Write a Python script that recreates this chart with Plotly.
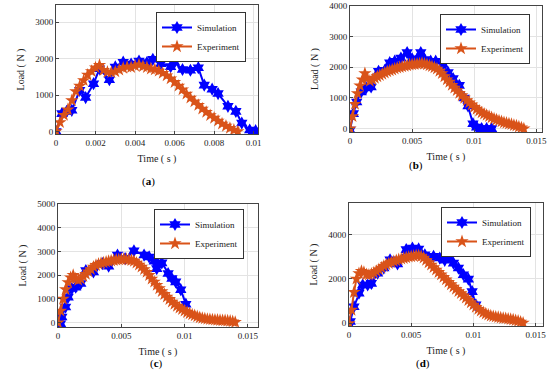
import plotly.graph_objects as go

# ---------------- data ----------------
# (a)
a_sim_t = [0, 0.0003, 0.00054, 0.0008, 0.0012, 0.0015, 0.0019, 0.0022, 0.0027, 0.003, 0.0034, 0.0038,
           0.0042, 0.0046, 0.0049, 0.0053, 0.0058, 0.006, 0.0064, 0.0068, 0.0072, 0.0075, 0.0079, 0.0082,
           0.0087, 0.0091, 0.0094, 0.0098, 0.0101]
a_sim_f = [0, 490, 550, 580, 1130, 930, 1310, 1720, 1420, 1770, 1900, 1850,
           1930, 1890, 1980, 1860, 1780, 1900, 1700, 1680, 1750, 1270, 1160, 1040,
           690, 550, 230, 40, 20]
a_exp_t = [0, 0.0002, 0.0004, 0.0006, 0.0008, 0.001, 0.0012, 0.0014, 0.0016, 0.0018, 0.002, 0.0022,
           0.0024, 0.0026, 0.0028, 0.003, 0.0032, 0.0034, 0.0036, 0.0038, 0.004, 0.0042, 0.0044, 0.0046,
           0.0048, 0.005, 0.0052, 0.0054, 0.0056, 0.0058, 0.006, 0.0062, 0.0064, 0.0066, 0.0068, 0.007,
           0.0072, 0.0074, 0.0076, 0.0078, 0.008, 0.0082, 0.0084, 0.0086, 0.0088, 0.009, 0.0092]
a_exp_f = [0, 250, 450, 600, 850, 1100, 1250, 1400, 1550, 1650, 1750, 1820,
           1680, 1630, 1620, 1640, 1690, 1740, 1770, 1760, 1800, 1830, 1790, 1760,
           1720, 1700, 1660, 1600, 1530, 1450, 1350, 1250, 1150, 1030, 920, 820,
           720, 620, 530, 440, 370, 290, 210, 150, 90, 40, 0]

# (b)
b_sim_t = [0, 0.00027, 0.00054, 0.0009, 0.0013, 0.0017, 0.0023, 0.0028, 0.0032, 0.0036, 0.0041, 0.0046,
           0.005, 0.0054, 0.0057, 0.006, 0.0065, 0.0069, 0.0075, 0.0079, 0.0083, 0.0088, 0.0092, 0.0095,
           0.0099, 0.0102, 0.0106, 0.011, 0.0114]
b_sim_f = [-50, 490, 870, 1200, 1330, 1360, 1870, 1900, 2150, 2200, 2300, 2480,
           2280, 2260, 2480, 2250, 2200, 2200, 2090, 1830, 1630, 1410, 1000, 740,
           160, 50, 0, 0, 0]
b_exp_t = [0, 0.0002, 0.0004, 0.0006, 0.0008, 0.001, 0.0012, 0.0014, 0.0016, 0.0018, 0.002, 0.0022,
           0.0024, 0.0026, 0.0028, 0.003, 0.0032, 0.0034, 0.0036, 0.0038, 0.004, 0.0042, 0.0044, 0.0046,
           0.0048, 0.005, 0.0052, 0.0054, 0.0056, 0.0058, 0.006, 0.0062, 0.0064, 0.0066, 0.0068, 0.007,
           0.0072, 0.0074, 0.0076, 0.0078, 0.008, 0.0082, 0.0084, 0.0086, 0.0088, 0.009, 0.0092, 0.0094,
           0.0096, 0.0098, 0.01, 0.0102, 0.0104, 0.0106, 0.0108, 0.011, 0.0112, 0.0114, 0.0116, 0.0118,
           0.012, 0.0122, 0.0124, 0.0126, 0.0128, 0.013, 0.0132, 0.0134, 0.0136, 0.0138, 0.014]
b_exp_f = [0, 400, 800, 1150, 1400, 1600, 1800, 1650, 1550, 1600, 1650, 1700,
           1740, 1780, 1820, 1860, 1890, 1920, 1950, 1980, 2000, 2020, 2040, 2060,
           2080, 2090, 2100, 2110, 2120, 2130, 2110, 2090, 2060, 2030, 1990, 1950,
           1880, 1800, 1700, 1600, 1520, 1420, 1330, 1250, 1160, 1080, 1000, 920,
           850, 780, 700, 640, 580, 520, 480, 440, 400, 360, 320, 290,
           260, 230, 200, 180, 160, 140, 110, 90, 60, 30, 0]

# (c)
c_sim_t = [0.0002, 0.0003, 0.0006, 0.0008, 0.0011, 0.0014, 0.0018, 0.0022, 0.0028, 0.0035, 0.004, 0.0047,
           0.0053, 0.006, 0.0068, 0.0072, 0.0076, 0.0078, 0.0082, 0.0087, 0.009, 0.0093, 0.0097, 0.0101]
c_sim_f = [-40, 240, 660, 1080, 1440, 1500, 1650, 2200, 2140, 2490, 2380, 2850,
           2700, 3030, 2850, 2770, 2590, 2280, 2520, 2070, 1860, 1720, 1390, 780]
c_exp_t = [0, 0.0002, 0.0004, 0.0006, 0.0008, 0.001, 0.0012, 0.0014, 0.0016, 0.0018, 0.002, 0.0022,
           0.0024, 0.0026, 0.0028, 0.003, 0.0032, 0.0034, 0.0036, 0.0038, 0.004, 0.0042, 0.0044, 0.0046,
           0.0048, 0.005, 0.0052, 0.0054, 0.0056, 0.0058, 0.006, 0.0062, 0.0064, 0.0066, 0.0068, 0.007,
           0.0072, 0.0074, 0.0076, 0.0078, 0.008, 0.0082, 0.0084, 0.0086, 0.0088, 0.009, 0.0092, 0.0094,
           0.0096, 0.0098, 0.01, 0.0102, 0.0104, 0.0106, 0.0108, 0.011, 0.0112, 0.0114, 0.0116, 0.0118,
           0.012, 0.0122, 0.0124, 0.0126, 0.0128, 0.013, 0.0132, 0.0134, 0.0136, 0.0138, 0.014]
c_exp_f = [0, 500, 1000, 1400, 1700, 1900, 2000, 1850, 1800, 1850, 1950, 2050,
           2150, 2250, 2350, 2420, 2470, 2500, 2530, 2560, 2590, 2610, 2630, 2650,
           2660, 2670, 2680, 2670, 2650, 2630, 2600, 2520, 2440, 2350, 2250, 2130,
           2000, 1850, 1720, 1580, 1440, 1320, 1200, 1090, 990, 880, 790, 700,
           630, 560, 500, 440, 390, 340, 300, 260, 220, 190, 170, 150,
           140, 130, 120, 110, 100, 95, 90, 80, 70, 50, 20]

# (d)
d_sim_t = [0, 0.0001, 0.0004, 0.0008, 0.0011, 0.0015, 0.0018, 0.0023, 0.0028, 0.0033, 0.0039, 0.0046,
           0.0051, 0.0056, 0.0061, 0.0068, 0.0073, 0.0077, 0.008, 0.0084, 0.0088, 0.0092, 0.0096, 0.0099,
           0.0102]
d_sim_f = [-80, 80, 750, 1360, 1730, 1730, 1800, 2260, 2490, 2860, 2680, 3320,
           3390, 3350, 3090, 3020, 2940, 2840, 3020, 2710, 2490, 2190, 1990, 1430,
           830]
d_exp_t = [0, 0.0002, 0.0004, 0.0006, 0.0008, 0.001, 0.0012, 0.0014, 0.0016, 0.0018, 0.002, 0.0022,
           0.0024, 0.0026, 0.0028, 0.003, 0.0032, 0.0034, 0.0036, 0.0038, 0.004, 0.0042, 0.0044, 0.0046,
           0.0048, 0.005, 0.0052, 0.0054, 0.0056, 0.0058, 0.006, 0.0062, 0.0064, 0.0066, 0.0068, 0.007,
           0.0072, 0.0074, 0.0076, 0.0078, 0.008, 0.0082, 0.0084, 0.0086, 0.0088, 0.009, 0.0092, 0.0094,
           0.0096, 0.0098, 0.01, 0.0102, 0.0104, 0.0106, 0.0108, 0.011, 0.0112, 0.0114, 0.0116, 0.0118,
           0.012, 0.0122, 0.0124, 0.0126, 0.0128, 0.013, 0.0132, 0.0134, 0.0136, 0.0138, 0.014]
d_exp_f = [0, 600, 1400, 2000, 2250, 2350, 2300, 2200, 2180, 2220, 2280, 2350,
           2420, 2500, 2580, 2650, 2700, 2750, 2790, 2830, 2870, 2900, 2930, 2960,
           2990, 3010, 3030, 3050, 3060, 3020, 2950, 2850, 2740, 2630, 2520, 2410,
           2300, 2190, 2080, 1970, 1860, 1750, 1640, 1540, 1440, 1350, 1250, 1150,
           1040, 940, 830, 730, 640, 560, 490, 430, 380, 340, 310, 290,
           270, 250, 230, 220, 200, 180, 160, 130, 100, 60, 20]

series_names = ["Simulation", "Experiment"]
panel_labels = ["(<b>a</b>)", "(<b>b</b>)", "(<b>c</b>)", "(<b>d</b>)"]

panels = [
    dict(sim=(a_sim_t, a_sim_f), exp=(a_exp_t, a_exp_f),
         xr=[0, 0.01022], yr=[-70, 3470], xt=[0, 0.002, 0.004, 0.006, 0.008, 0.01],
         xtl=["0", "0.002", "0.004", "0.006", "0.008", "0.01"], yt=[0, 1000, 2000, 3000]),
    dict(sim=(b_sim_t, b_sim_f), exp=(b_exp_t, b_exp_f),
         xr=[0, 0.01546], yr=[-110, 4000], xt=[0, 0.005, 0.01, 0.015],
         xtl=["0", "0.005", "0.01", "0.015"], yt=[0, 1000, 2000, 3000, 4000]),
    dict(sim=(c_sim_t, c_sim_f), exp=(c_exp_t, c_exp_f),
         xr=[0, 0.0158], yr=[-180, 5000], xt=[0, 0.005, 0.01, 0.015],
         xtl=["0", "0.005", "0.01", "0.015"], yt=[0, 1000, 2000, 3000, 4000, 5000]),
    dict(sim=(d_sim_t, d_sim_f), exp=(d_exp_t, d_exp_f),
         xr=[0, 0.0156], yr=[-120, 5420], xt=[0, 0.005, 0.01, 0.015],
         xtl=["0", "0.005", "0.01", "0.015"], yt=[0, 2000, 4000]),
]

W, H = 550, 380
# pixel boxes of plot areas (left, right, top, bottom)
boxes = [(56, 258, 5, 134), (350, 542, 6, 132), (58, 258, 204, 327), (349, 543, 203, 326)]
legend_pos = [(201, 12), (485, 14), (199, 209), (486, 207)]
label_pos = [(140, 182), (425, 165), (148, 372), (432, 372)]

BLUE = "#0000FF"
ORANGE = "#D95319"
FONT = "Liberation Serif"

fig = go.Figure()
layout = dict(width=W, height=H, margin=dict(l=0, r=0, t=0, b=0, autoexpand=False),
              paper_bgcolor="white", plot_bgcolor="white",
              font=dict(family=FONT, size=9, color="#222"), annotations=[])

for i, p in enumerate(panels):
    k = "" if i == 0 else str(i + 1)
    xa, ya = "x" + k, "y" + k
    leg = "legend" + k
    fig.add_trace(go.Scatter(x=p["sim"][0], y=p["sim"][1], mode="lines+markers", name=series_names[0],
                             line=dict(color=BLUE, width=2),
                             marker=dict(symbol="hexagram", size=10, color=BLUE),
                             xaxis=xa, yaxis=ya, legend=leg))
    fig.add_trace(go.Scatter(x=p["exp"][0], y=p["exp"][1], mode="lines+markers", name=series_names[1],
                             line=dict(color=ORANGE, width=2),
                             marker=dict(symbol="star", size=10, color=ORANGE),
                             xaxis=xa, yaxis=ya, legend=leg))
    l, r, t, b = boxes[i]
    axcommon = dict(showgrid=True, gridcolor="#e3e3e3", gridwidth=1, zeroline=False,
                    showline=True, linecolor="#444", linewidth=1, mirror=True,
                    ticks="inside", ticklen=3, tickcolor="#444", automargin=False,
                    tickfont=dict(family=FONT, size=9, color="#222"))
    layout["xaxis" + k] = dict(axcommon, domain=[l / W, r / W], range=p["xr"], anchor=ya,
                               tickvals=p["xt"], ticktext=p["xtl"],
                               title=dict(text="Time ( s )", font=dict(family=FONT, size=10), standoff=8))
    layout["yaxis" + k] = dict(axcommon, domain=[1 - b / H, 1 - t / H], range=p["yr"], anchor=xa,
                               tickvals=p["yt"],
                               title=dict(text="Load ( N )", font=dict(family=FONT, size=10), standoff=8))
    lx, ly = legend_pos[i]
    layout[leg] = dict(x=lx / W, y=1 - ly / H, xanchor="center", yanchor="top",
                       bgcolor="white", bordercolor="#333", borderwidth=1,
                       font=dict(family=FONT, size=9, color="#222"), itemwidth=30,
                       tracegroupgap=0)
    px, py = label_pos[i]
    layout["annotations"].append(dict(text=panel_labels[i], x=px / W, y=1 - py / H,
                                      xref="paper", yref="paper", showarrow=False,
                                      font=dict(family=FONT, size=11, color="#000")))

fig.update_layout(**layout)
fig.write_html("out.html", config={"displayModeBar": False},
               post_script="document.body.style.margin='0px';document.body.style.padding='0px';")
